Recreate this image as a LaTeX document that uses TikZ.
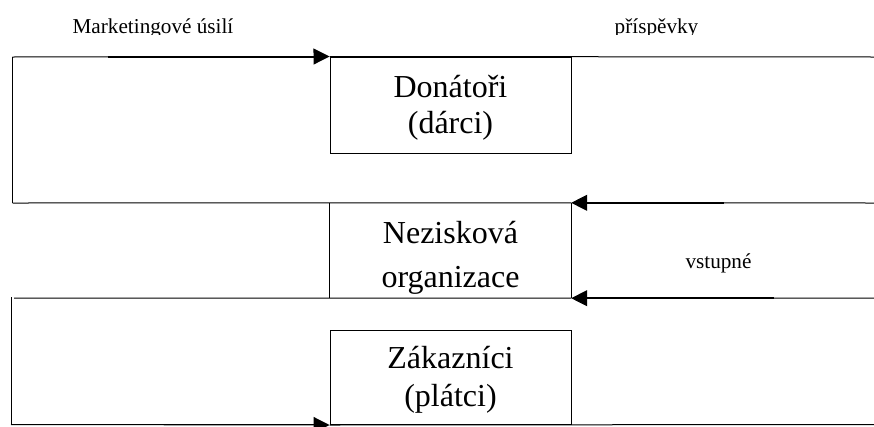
\documentclass[tikz,border=0pt]{standalone}
\usepackage{fontspec}
\setmainfont{Liberation Serif}
\usetikzlibrary{arrows.meta}
\begin{document}
\begin{tikzpicture}[x=1pt,y=-1pt,
  flow/.style={line width=1pt},
  heavy/.style={line width=1.8pt},
  tipped/.style={flow,-{Triangle[length=16pt,width=16pt]}},
  boxline/.style={font=\fontsize{32}{32}\selectfont, anchor=base, inner sep=0pt},
  lbl/.style={font=\fontsize{21.2}{21.2}\selectfont, anchor=base, inner sep=0pt},
  actor/.style={inner sep=0pt, minimum width=241pt, minimum height=96pt}]
\useasboundingbox (0,0) rectangle (874,426);
\clip (0,0) rectangle (874,426);
% boxes
\node[actor, draw, line width=1pt] (don) at (450.5,105) {};
\node[actor, minimum height=95pt] (nez) at (450.5,250.5) {};
\node[actor, draw, line width=1pt, minimum height=94.5pt] (zak) at (450.5,377.25) {};
\draw[flow] (nez.north west) -- (nez.south west);
\draw[flow] (nez.north east) -- (nez.south east);
% corner coordinates
\coordinate (c1) at (12.5,57);
\coordinate (c2) at (12.5,203);
\coordinate (e1) at (874,57);
\coordinate (e2) at (874,203);
\coordinate (c3) at (14,298);
\coordinate (v3) at (11,297);
\coordinate (c4) at (11,424.5);
\coordinate (e3) at (874,298);
\coordinate (e4) at (874,424.5);
% flow 1: marketing effort to donors
\draw[flow] (c2) -- (c1);
\draw[tipped] (c1) -- (don.north west);
\draw[flow] (don.north west) -- (e1);
\draw[heavy] (108,57) -- (314,57);
% flow 2: contributions to the organization
\draw[tipped] (e2) -- (nez.north east);
\draw[flow] (nez.north east) -- (c2);
\draw[heavy] (587,203) -- (724,203);
% flow 3: admission to the organization
\draw[tipped] (e3) -- (nez.south east);
\draw[flow] (nez.south east) -- (c3);
\draw[heavy] (587,298) -- (774,298);
% flow 4: marketing effort to customers
\draw[flow] (v3) -- (c4);
\draw[tipped] (c4) -- (zak.south west);
\draw[flow] (zak.south west) -- (e4);
\draw[heavy] (80,424.5) -- (314,424.5);
% box texts
\node[boxline] (t1) at (450.5,97) {Donátoři};
\node[boxline] (t2) at (450.5,133) {(dárci)};
\node[boxline] (t3) at (450.5,243) {Nezisková};
\begin{scope}
\clip (331,204) rectangle (570,296.8);
\node[boxline] (t4) at (450.5,287) {organizace};
\end{scope}
\node[boxline] (t5) at (450.5,368) {Zákazníci};
\node[boxline] (t6) at (450.5,406) {(plátci)};
% labels
\begin{scope}
\clip (0,0) rectangle (874,34);
\node[lbl] (l1) at (153,33.3) {Marketingové úsilí};
\node[lbl] (l2) at (656.5,33.3) {příspěvky};
\end{scope}
\node[lbl] (l3) at (718.5,268) {vstupné};
\end{tikzpicture}
\end{document}
